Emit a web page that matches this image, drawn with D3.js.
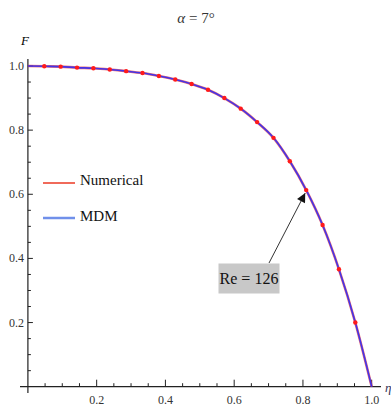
<!DOCTYPE html>
<html><head><meta charset="utf-8">
<script src="https://cdn.jsdelivr.net/npm/d3@7"></script>
<style>body{margin:0;background:#fff}svg{display:block}</style>
</head><body><svg id="c" width="391" height="409"></svg>
<script>
const etaPoints = [1/21,2/21,3/21,4/21,5/21,6/21,7/21,8/21,9/21,10/21,11/21,12/21,13/21,14/21,15/21,16/21,17/21,18/21,19/21,20/21];
const numericalF = [0.999,0.998,0.995,0.993,0.989,0.984,0.978,0.969,0.958,0.944,0.926,0.900,0.867,0.825,0.776,0.703,0.613,0.504,0.366,0.200];
const mdmEta = [0,1/21,2/21,3/21,4/21,5/21,6/21,7/21,8/21,9/21,10/21,11/21,12/21,13/21,14/21,15/21,16/21,17/21,18/21,19/21,20/21,1];
const mdmF = [1.0,0.999,0.998,0.995,0.993,0.989,0.984,0.978,0.969,0.958,0.944,0.926,0.900,0.867,0.825,0.776,0.703,0.613,0.504,0.366,0.200,0.0];
const xTicks = [0.2,0.4,0.6,0.8,1.0];
const yTicks = [0.2,0.4,0.6,0.8,1.0];
const title = "= 7°";

const svg = d3.select("#c");
const x = d3.scaleLinear().domain([0,1]).range([27.9,371.7]);
const y = d3.scaleLinear().domain([0,1]).range([386.7,66]);
const serif = "'Liberation Serif','DejaVu Serif',serif";

svg.append("line").attr("x1",20).attr("x2",381).attr("y1",y(0)).attr("y2",y(0)).attr("stroke","#222").attr("stroke-width",1.2);
svg.append("line").attr("x1",x(0)).attr("x2",x(0)).attr("y1",59).attr("y2",393).attr("stroke","#222").attr("stroke-width",1.2);

const minor = d3.range(1,21).map(i=>i*0.05);
svg.append("g").selectAll("line").data(minor).join("line")
  .attr("x1",d=>x(d)).attr("x2",d=>x(d))
  .attr("y1",y(0)).attr("y2",(d,i)=>y(0)-((i+1)%4===0?7:3.5))
  .attr("stroke","#222").attr("stroke-width",1);
svg.append("g").selectAll("line").data(minor).join("line")
  .attr("y1",d=>y(d)).attr("y2",d=>y(d))
  .attr("x1",x(0)).attr("x2",(d,i)=>x(0)+((i+1)%4===0?5:3))
  .attr("stroke","#222").attr("stroke-width",1);

svg.append("g").selectAll("text").data(xTicks).join("text")
  .attr("x",d=>x(d)).attr("y",404).attr("text-anchor","middle")
  .attr("font-family",serif).attr("font-size",12).attr("fill","#333")
  .text(d=>d.toFixed(1));
svg.append("g").selectAll("text").data(yTicks).join("text")
  .attr("x",24).attr("y",d=>y(d)+4).attr("text-anchor","end")
  .attr("font-family",serif).attr("font-size",12).attr("fill","#333")
  .text(d=>d.toFixed(1));

svg.append("text").attr("x",25).attr("y",45).attr("font-family",serif).attr("font-style","italic").attr("font-size",13).attr("text-anchor","middle").text("F");
svg.append("text").attr("x",385).attr("y",392).attr("font-family",serif).attr("font-style","italic").attr("font-size",13).attr("fill","#335").text("η");

const tt = svg.append("text").attr("x",196).attr("y",23).attr("text-anchor","middle").attr("font-family",serif).attr("font-size",15).attr("fill","#333");
tt.append("tspan").attr("font-style","italic").text("α ");
tt.append("tspan").text(title);

const line = d3.line().x(d=>x(d[0])).y(d=>y(d[1])).curve(d3.curveMonotoneX);
const mdm = mdmEta.map((e,i)=>[e,mdmF[i]]);
svg.append("path").datum(mdm).attr("d",line).attr("fill","none").attr("stroke","#e0303a").attr("stroke-width",2.6).attr("opacity",0.7);
svg.append("path").datum(mdm).attr("d",line).attr("fill","none").attr("stroke","#3a30ee").attr("stroke-width",1.6).attr("opacity",0.95);

svg.append("g").selectAll("circle").data(etaPoints).join("circle")
  .attr("cx",d=>x(d)).attr("cy",(d,i)=>y(numericalF[i])).attr("r",2.2).attr("fill","#ff1a1a");

svg.append("line").attr("x1",43).attr("x2",75).attr("y1",183).attr("y2",183).attr("stroke","#f06a5a").attr("stroke-width",2);
svg.append("line").attr("x1",43).attr("x2",75).attr("y1",218).attr("y2",218).attr("stroke","#7090ea").attr("stroke-width",2.5);
svg.append("text").attr("x",80).attr("y",185).attr("font-family",serif).attr("font-size",15).attr("fill","#111").text("Numerical");
svg.append("text").attr("x",80).attr("y",221).attr("font-family",serif).attr("font-size",15).attr("fill","#111").text("MDM");

const tx = x(17/21), ty = y(numericalF[16]);
svg.append("defs").append("marker").attr("id","ah").attr("viewBox","0 0 10 10").attr("refX",10).attr("refY",5)
  .attr("markerWidth",13).attr("markerHeight",9).attr("markerUnits","userSpaceOnUse").attr("orient","auto")
  .append("path").attr("d","M0,0 L10,5 L0,10 Z").attr("fill","#111");
svg.append("line").attr("x1",269).attr("y1",263).attr("x2",tx-1).attr("y2",ty+3)
  .attr("stroke","#333").attr("stroke-width",1).attr("marker-end","url(#ah)");
svg.append("rect").attr("x",218.5).attr("y",263.5).attr("width",61).attr("height",30).attr("fill","#c8c8c8");
svg.append("text").attr("x",249).attr("y",284).attr("text-anchor","middle").attr("font-family",serif).attr("font-size",16).attr("fill","#111").text("Re = 126");
</script></body></html>
